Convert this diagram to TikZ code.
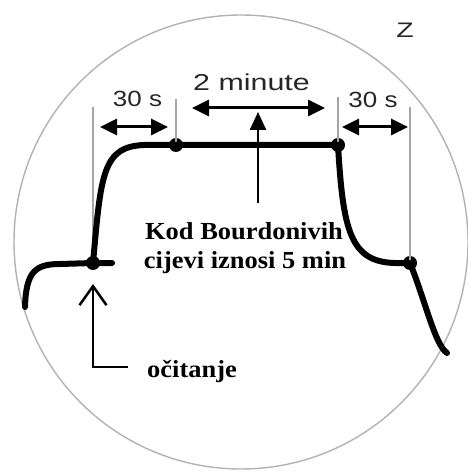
\documentclass[tikz,border=0pt]{standalone}
\usepackage{fontspec}
\setmainfont{Liberation Serif}
\setsansfont{Liberation Sans}
\usepackage{tikz}
\usetikzlibrary{arrows.meta,positioning}

\begin{document}
\begin{tikzpicture}[x=1pt,y=-1pt,
	guide/.style={draw=gray!70,line width=1.3pt},
	curve/.style={line width=6pt,line cap=round,line join=round},
	dot/.style={circle,fill=black,inner sep=0pt,minimum size=14pt},
	span/.style={{Triangle[length=17pt,width=16pt]}-{Triangle[length=17pt,width=16pt]},line width=3pt},
	up/.style={-{Triangle[length=18pt,width=16pt]},line width=2.5pt},
	read/.style={-{Straight Barb[length=19pt,width=27pt]},line width=2.5pt},
	lab/.style={font=\sffamily\fontsize{22}{22}\selectfont,xscale=1.18,anchor=base,inner sep=0pt,text=black!85},
	note/.style={font=\bfseries\fontsize{24.5}{24.5}\selectfont,xscale=1.08,anchor=base,inner sep=0pt}]
\useasboundingbox (0,0) rectangle (467,473);
\draw[gray!60,line width=1.4pt] (241,242) circle[radius=227];

\node[dot] (d1) at (93,263) {};
\node[dot] (d2) at (176,145) {};
\node[dot] (d3) at (338,145) {};
\node[dot] (d4) at (410,263) {};

\coordinate (g1) at (93,107);
\coordinate (g2) at (176,99);
\coordinate (g3) at (338,97);
\coordinate (g4) at (410,107);
\draw[guide] (g1) -- (d1.center);
\draw[guide] (g2) -- (d2.center);
\draw[guide] (g3) -- (d3.center);
\draw[guide] (g4) -- (d4.center);

\coordinate (s) at (25,307);
\coordinate (e) at (447,353);
\draw[curve] (s) .. controls (26,272) and (35,264) .. (60,264) -- (d1.center) -- (112,263);
\draw[curve] (d1.center) .. controls (101,175) and (102,146) .. (145,145) -- (d2.center) -- (d3.center);
\draw[curve] (d3.center) .. controls (343,230) and (350,262) .. (395,263) -- (d4.center) .. controls (425,300) and (435,345) .. (e);

\coordinate (a1) at (100,127);
\coordinate (b1) at (168,127);
\coordinate (a2) at (192,108);
\coordinate (b2) at (325,108);
\coordinate (a3) at (342,127);
\coordinate (b3) at (408,127);
\coordinate (m) at (258,108);
\draw[span] (a1) -- (b1);
\draw[span] (a2) -- (b2);
\draw[span] (a3) -- (b3);

\node[lab] (t1) at (137.5,107) {30 s};
\node[lab,font=\sffamily\fontsize{23}{23}\selectfont,xscale=1.12] (t2) at (251.5,91) {2 minute};
\node[lab] (t3) at (373,108) {30 s};
\node[lab,font=\sffamily\fontsize{21}{21}\selectfont,xscale=1.15] (z) at (405,38) {Z};

\node[note] (kod) at (244,239) {Kod Bourdonivih};
\node[note] (cijevi) at (245,268) {cijevi iznosi 5 min};
\node[note,anchor=base west] (ocit) at (147,377) {očitanje};

\draw[up] ([xshift=14pt,yshift=19pt]kod.north) -- ([yshift=-4pt]m);
\coordinate (tip) at (93,284);
\draw[read] ([xshift=-19pt,yshift=4pt]ocit.west) -| (tip);
\end{tikzpicture}
\end{document}
